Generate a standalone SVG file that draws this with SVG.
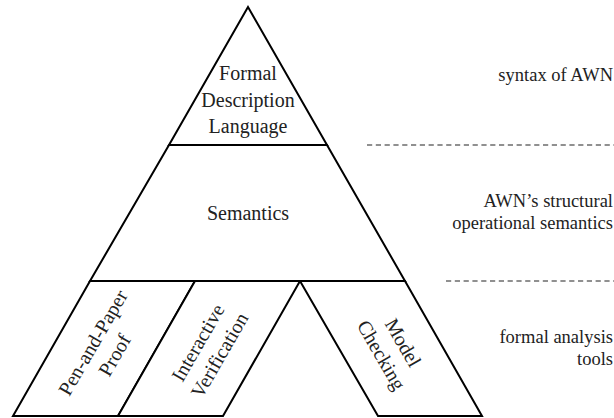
<svg xmlns="http://www.w3.org/2000/svg" width="614" height="418" viewBox="0 0 614 418">
<style>
.shape{fill:#fff;stroke:#000;stroke-width:2;stroke-linejoin:miter}
.lbl{font-family:'Liberation Serif','Times New Roman',serif;font-size:20px;fill:#222;text-anchor:middle}
.side{font-family:'Liberation Serif','Times New Roman',serif;font-size:18.5px;fill:#222;text-anchor:end}
.sep{stroke:#222;stroke-width:1.1;stroke-dasharray:5.2,3.6;fill:none}
</style>
<rect width="614" height="418" fill="#fff"/>
<g id="formal-description-language">
<polygon class="shape" points="248,7 169,145 327,145"/>
<text class="lbl" x="248" y="80">Formal</text>
<text class="lbl" x="248" y="106.5">Description</text>
<text class="lbl" x="248" y="133">Language</text>
</g>
<g id="semantics">
<polygon class="shape" points="169,145 327,145 405,281 90,281"/>
<text class="lbl" x="248" y="220">Semantics</text>
</g>
<g id="pen-and-paper-proof">
<polygon class="shape" points="90,281 195,281 118,416 13,416"/>
<g transform="translate(104,349) rotate(-60)">
<text class="lbl" x="0" y="-6">Pen-and-Paper</text>
<text class="lbl" x="0" y="19">Proof</text>
</g>
</g>
<g id="interactive-verification">
<polygon class="shape" points="195,281 300,281 223,416 118,416"/>
<g transform="translate(209,349) rotate(-60)">
<text class="lbl" x="0" y="-6">Interactive</text>
<text class="lbl" x="0" y="19">Verification</text>
</g>
</g>
<g id="model-checking">
<polygon class="shape" points="300,281 405,281 482,416 378,416"/>
<g transform="translate(392,349) rotate(60)">
<text class="lbl" x="0" y="-6">Model</text>
<text class="lbl" x="0" y="19">Checking</text>
</g>
</g>
<g id="separators">
<line class="sep" x1="367" y1="145" x2="614" y2="145"/>
<line class="sep" x1="446" y1="281" x2="614" y2="281"/>
</g>
<g id="side-labels">
<text class="side" x="613" y="81">syntax of AWN</text>
<text class="side" x="613" y="207">AWN’s structural</text>
<text class="side" x="613" y="228.5">operational semantics</text>
<text class="side" x="613" y="343">formal analysis</text>
<text class="side" x="613" y="364.5">tools</text>
</g>
</svg>
